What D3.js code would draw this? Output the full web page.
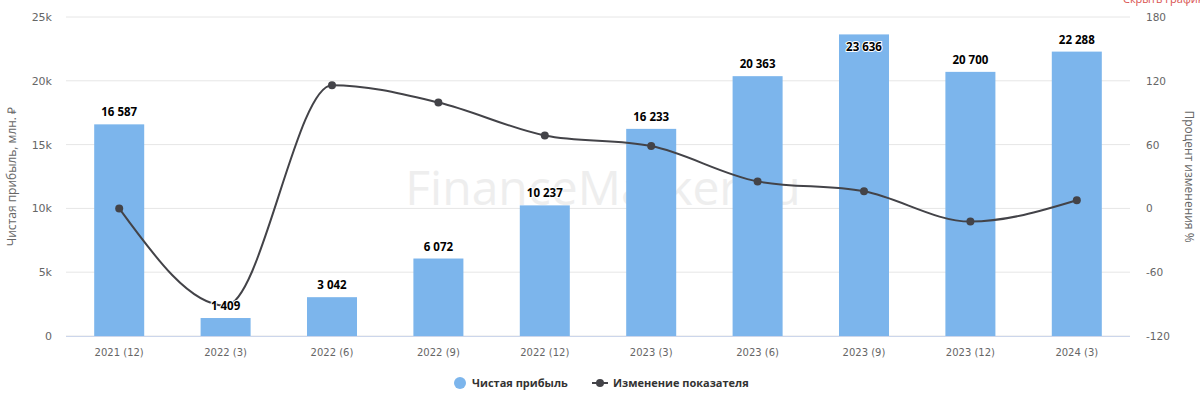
<!DOCTYPE html>
<html>
<head>
<meta charset="utf-8">
<script src="https://cdn.jsdelivr.net/npm/d3@7"></script>
<style>
  body { margin: 0; background: #fff; }
  svg { display: block; font-family: "Open Sans", sans-serif; }
</style>
</head>
<body>
<div id="chart-area"></div>
<script>
var categories = ['2021 (12)', '2022 (3)', '2022 (6)', '2022 (9)', '2022 (12)',
                  '2023 (3)', '2023 (6)', '2023 (9)', '2023 (12)', '2024 (3)']
var profit = [16587, 1409, 3042, 6072, 10237, 16233, 20363, 23636, 20700, 22288]
var change = [0, -91.5, 115.9, 99.6, 68.6, 58.6, 25.4, 16.1, -12.4, 7.7]
var leftTicks = [0, 5000, 10000, 15000, 20000, 25000]
var rightTicks = [-120, -60, 0, 60, 120, 180]

var W = 1200, H = 394
var margin = { left: 66, right: 70, top: 17, bottom: 58 }
var width = W - margin.left - margin.right,
    height = H - margin.top - margin.bottom
var tickFont = '"DejaVu Sans", sans-serif'

var svg = d3.select('#chart-area')
  .append('svg')
  .attr('width', W)
  .attr('height', H)

// watermark
svg.append('text')
  .attr('x', 603).attr('y', 205)
  .attr('text-anchor', 'middle')
  .attr('font-size', 48)
  .attr('fill', '#eeeeee')
  .text('FinanceMarker.ru')

// cut-off link at top right
svg.append('text')
  .attr('x', 1123).attr('y', 3)
  .attr('font-size', 11)
  .attr('fill', '#d9534f')
  .text('Скрыть график')

var g = svg.append('g')
  .attr('transform', 'translate(' + margin.left + ',' + margin.top + ')')

var x = d3.scaleBand()
  .domain(categories)
  .range([0, width])
  .paddingInner(0.53)
  .paddingOuter(0.265)

var xc = d3.scaleBand().domain(categories).range([0, width])

var y = d3.scaleLinear().domain([0, 25000]).range([height, 0])
var y2 = d3.scaleLinear().domain([-120, 180]).range([height, 0])

// grid
g.selectAll('.grid').data(leftTicks).enter()
  .append('line')
  .attr('x1', 0).attr('x2', width)
  .attr('y1', d => y(d)).attr('y2', d => y(d))
  .attr('stroke', '#e6e6e6')

// left tick labels
g.selectAll('.lt').data(leftTicks).enter()
  .append('text')
  .attr('x', -14).attr('y', d => y(d) + 4)
  .attr('text-anchor', 'end')
  .attr('font-family', tickFont)
  .attr('font-size', 11).attr('fill', '#666')
  .text(d => d === 0 ? '0' : (d / 1000) + 'k')

// right tick labels
g.selectAll('.rt').data(rightTicks).enter()
  .append('text')
  .attr('x', width + 16).attr('y', d => y2(d) + 4)
  .attr('text-anchor', 'start')
  .attr('font-family', tickFont)
  .attr('font-size', 10.5).attr('fill', '#666')
  .text(d => d)

// axis titles
svg.append('text')
  .attr('transform', 'translate(16,' + (margin.top + height / 2) + ') rotate(-90)')
  .attr('text-anchor', 'middle')
  .attr('font-size', 12).attr('fill', '#666')
  .text('Чистая прибыль, млн. ₽')

svg.append('text')
  .attr('transform', 'translate(1185,' + (margin.top + height / 2) + ') rotate(90)')
  .attr('text-anchor', 'middle')
  .attr('font-size', 12).attr('fill', '#666')
  .text('Процент изменения %')

// bars
g.selectAll('rect.bar').data(profit).enter()
  .append('rect')
  .attr('class', 'bar')
  .attr('x', (d, i) => x(categories[i]))
  .attr('y', d => y(d))
  .attr('width', x.bandwidth())
  .attr('height', d => height - y(d))
  .attr('fill', '#7cb5ec')

// x axis line
g.append('line')
  .attr('x1', 0).attr('x2', width)
  .attr('y1', height + 0.5).attr('y2', height + 0.5)
  .attr('stroke', '#ccd6eb')

// x labels
g.selectAll('.xl').data(categories).enter()
  .append('text')
  .attr('x', d => xc(d) + xc.bandwidth() / 2)
  .attr('y', height + 20)
  .attr('text-anchor', 'middle')
  .attr('font-family', tickFont)
  .attr('font-size', 10).attr('fill', '#666')
  .text(d => d)

// line series
var line = d3.line()
  .x((d, i) => xc(categories[i]) + xc.bandwidth() / 2)
  .y(d => y2(d))
  .curve(d3.curveMonotoneX)

g.append('path')
  .datum(change)
  .attr('d', line)
  .attr('fill', 'none')
  .attr('stroke', '#434348')
  .attr('stroke-width', 2)

g.selectAll('circle.pt').data(change).enter()
  .append('circle')
  .attr('cx', (d, i) => xc(categories[i]) + xc.bandwidth() / 2)
  .attr('cy', d => y2(d))
  .attr('r', 4)
  .attr('fill', '#434348')

// data labels
var fmt = d => d3.format(',')(d).replace(/,/g, ' ')
g.selectAll('.dl').data(profit).enter()
  .append('text')
  .attr('x', (d, i) => xc(categories[i]) + xc.bandwidth() / 2)
  .attr('y', d => y(d) - 18 < 0 ? y(d) + 17 : y(d) - 8)
  .attr('text-anchor', 'middle')
  .attr('font-size', 11.5).attr('font-weight', 'bold')
  .attr('fill', '#000')
  .attr('stroke', '#fff').attr('stroke-width', 2)
  .attr('paint-order', 'stroke')
  .text(fmt)

// legend
var lg = svg.append('g').attr('transform', 'translate(0,383)')
lg.append('circle').attr('cx', 460).attr('cy', 0).attr('r', 6).attr('fill', '#7cb5ec')
lg.append('text').attr('x', 472).attr('y', 4)
  .attr('font-size', 11).attr('font-weight', 'bold').attr('fill', '#333')
  .text('Чистая прибыль')
lg.append('line').attr('x1', 592).attr('x2', 608).attr('y1', 0).attr('y2', 0)
  .attr('stroke', '#434348').attr('stroke-width', 2)
lg.append('circle').attr('cx', 600).attr('cy', 0).attr('r', 4).attr('fill', '#434348')
lg.append('text').attr('x', 613).attr('y', 4)
  .attr('font-size', 11).attr('font-weight', 'bold').attr('fill', '#333')
  .text('Изменение показателя')
</script>
</body>
</html>
